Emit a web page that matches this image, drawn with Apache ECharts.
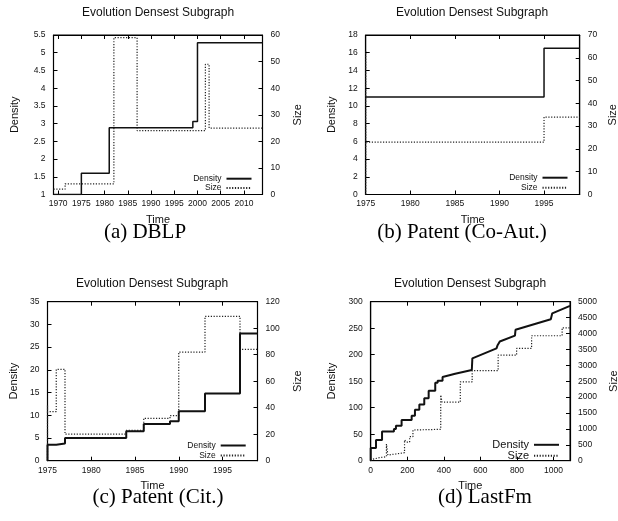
<!DOCTYPE html>
<html><head><meta charset="utf-8">
<script src="https://cdn.jsdelivr.net/npm/echarts@6/dist/echarts.min.js"></script>
<style>html,body{margin:0;padding:0;background:#fff}#c{width:618px;height:521px}</style>
</head><body><div id="c"></div>
<script>
// ---------- data ----------
// (a) DBLP
const dblpDensityTime = [1969, 1975, 1981, 1999, 2000, 2014];
const dblpDensity     = [1, 1.6, 2.88, 3.06, 5.28, 5.28];
const dblpSizeTime    = [1969, 1971.5, 1982, 1987, 2001.7, 2002.5, 2014];
const dblpSize        = [2, 4, 59, 24, 49, 25, 25];
const dblpXTicks      = [1970, 1975, 1980, 1985, 1990, 1995, 2000, 2005, 2010];

// (b) Patent (Co-Aut.)
const coautDensityTime = [1975, 1995, 1999];
const coautDensity     = [11, 16.5, 16.5];
const coautSizeTime    = [1975, 1975, 1975, 1995, 1999];
const coautSize        = [0, 63, 23, 34, 34];

// (c) Patent (Cit.)
const citDensityTime = [1975, 1975, 1976, 1977, 1984, 1986, 1989, 1990, 1993, 1997, 1999];
const citDensity     = [0, 3.5, 3.8, 5, 6.5, 8.1, 8.7, 10.9, 14.8, 28, 28];
const citSizeTime    = [1975, 1975, 1975, 1976, 1977, 1984, 1986, 1989, 1990, 1993, 1997, 1999];
const citSize        = [0, 42, 37, 69, 20, 23, 32, 34, 82, 109, 84, 84];

// (d) LastFm  (corner points of the traced curves)
const fmDensityTime = [0,0,29,29,62,62,127,127,138,138,169,169,224,224,242,242,266,266,293,293,317,317,353,353,366,366,393,393,462,553,556,688,694,706,789,792,985,993,1090];
const fmDensity     = [0,24,24,39,39,55,55,60,60,66,66,77,77,85,85,96,96,106,106,118,118,132,132,147,147,151,151,158,164,171,193,212,218,225,236,247,267,278,292];
const fmSizeTime    = [0,5,12,12,47,47,86,86,94,94,101,101,137,137,185,185,195,195,213,213,231,231,240,240,383,383,390,390,490,490,555,555,697,697,798,798,880,880,1047,1047,1090];
const fmSize        = [0,50,50,95,95,126,126,525,525,179,179,211,211,252,252,650,650,587,587,755,755,965,965,987,987,2066,2066,1840,1840,2480,2480,2830,2830,3320,3320,3530,3530,3930,3930,4180,4180];

const titles   = ['Evolution Densest Subgraph','Evolution Densest Subgraph','Evolution Densest Subgraph','Evolution Densest Subgraph'];
const captions = ['(a) DBLP', '(b) Patent (Co-Aut.)', '(c) Patent (Cit.)', '(d) LastFm'];

// ---------- build ----------
const zip = (a, b) => a.map((v, i) => [v, b[i]]);
const SANS = 'Liberation Sans, Arial, Helvetica, sans-serif';
const SERIF = 'Liberation Serif, Times New Roman, serif';
const INK = '#111';
const plain = v => String(v);

const panels = [
  { grid:{left:53.5, top:35, width:209, height:159.5},
    x:{min:1969, max:2014, custom:dblpXTicks},
    y1:{min:1, max:5.5, interval:0.5}, y2:{min:0, max:60, interval:10},
    dens: zip(dblpDensityTime, dblpDensity), size: zip(dblpSizeTime, dblpSize), step:true,
    dGap:33, sGap:30, tGap:19.5, dW:1.5,
    legend:{right:618-252.5, top:174.2, font:8.5, gap:0.4},
    title:[158, 13], caption:[145, 232] },
  { grid:{left:365.7, top:35, width:214, height:159.5},
    x:{min:1975, max:1999, interval:5},
    y1:{min:0, max:18, interval:2}, y2:{min:0, max:70, interval:10},
    dens: zip(coautDensityTime, coautDensity), size: zip(coautSizeTime, coautSize), step:true,
    dGap:28.5, sGap:28, tGap:19.5, dW:1.5,
    legend:{right:618-568.5, top:173.2, font:8.5, gap:1},
    title:[472, 13], caption:[462, 232] },
  { grid:{left:47.5, top:301.7, width:210, height:159},
    x:{min:1975, max:1999, interval:5},
    y1:{min:0, max:35, interval:5}, y2:{min:0, max:120, interval:20},
    dens: zip(citDensityTime, citDensity), size: zip(citSizeTime, citSize), step:true,
    dGap:28.5, sGap:34.5, tGap:19.5, dW:2,
    legend:{right:618-246.7, top:441, font:8.5, gap:1},
    title:[152, 284], caption:[158, 497] },
  { grid:{left:370.7, top:301.7, width:199.3, height:159},
    x:{min:0, max:1090, interval:200},
    y1:{min:0, max:300, interval:50}, y2:{min:0, max:5000, interval:500},
    dens: zip(fmDensityTime, fmDensity), size: zip(fmSizeTime, fmSize), step:false,
    dGap:33.5, sGap:38, tGap:20, dW:2,
    legend:{right:618-560, top:439.3, font:11, gap:0},
    title:[470, 284], caption:[485, 497] }
];

const axisLine = {show:true, onZero:false, lineStyle:{color:'#000', width:1.2}};
const tick = {show:true, inside:true, length:4, lineStyle:{color:'#000', width:1}};
const lab = {color:INK, fontSize:8.5, fontFamily:SANS, formatter:plain};
const nameStyle = {color:INK, fontSize:11, fontFamily:SANS};

const grid = [], xAxis = [], yAxis = [], series = [], legend = [], graphic = [];

panels.forEach((p, i) => {
  grid.push(Object.assign({show:true, borderColor:'#000', borderWidth:1, containLabel:false, outerBoundsMode:'none'}, p.grid));
  const xBase = {type:'value', gridIndex:i, min:p.x.min, max:p.x.max, splitLine:{show:false}, axisLine};
  const xTick = Object.assign({}, tick);
  const xLab = Object.assign({}, lab, {margin:5, showMinLabel:true, showMaxLabel:false});
  if (p.x.custom) {
    xTick.customValues = p.x.custom; xLab.customValues = p.x.custom; xLab.showMaxLabel = true;
  } else { xBase.interval = p.x.interval; }
  xAxis.push(Object.assign({}, xBase, {position:'bottom', axisTick:xTick, axisLabel:xLab,
    name:'Time', nameLocation:'middle', nameGap:p.tGap, nameTextStyle:nameStyle}));
  xAxis.push(Object.assign({}, xBase, {position:'top', axisTick:xTick, axisLabel:{show:false}}));
  yAxis.push({type:'value', gridIndex:i, position:'left', min:p.y1.min, max:p.y1.max, interval:p.y1.interval,
    splitLine:{show:false}, axisLine, axisTick:tick, axisLabel:Object.assign({}, lab, {margin:8}),
    name:'Density', nameLocation:'middle', nameGap:p.dGap, nameRotate:90, nameTextStyle:nameStyle});
  yAxis.push({type:'value', gridIndex:i, position:'right', min:p.y2.min, max:p.y2.max, interval:p.y2.interval,
    splitLine:{show:false}, axisLine, axisTick:tick, axisLabel:Object.assign({}, lab, {margin:8}),
    name:'Size', nameLocation:'middle', nameGap:p.sGap, nameRotate:90, nameTextStyle:nameStyle});
  series.push({name:'Density', type:'line', xAxisIndex:2*i, yAxisIndex:2*i, data:p.dens,
    step:p.step ? 'end' : false, symbol:'none', lineStyle:{color:INK, width:p.dW, type:'solid'}, itemStyle:{color:INK}, z:3});
  series.push({name:'Size', type:'line', xAxisIndex:2*i, yAxisIndex:2*i+1, data:p.size,
    step:p.step ? 'end' : false, symbol:'none', lineStyle:{color:'#222', width:1.2, type:[1.2,1.6]}, itemStyle:{color:'#222'}, z:2});
  legend.push({data:['Density','Size'], orient:'vertical', align:'right', right:p.legend.right, top:p.legend.top,
    padding:0, itemGap:p.legend.gap, itemWidth:25, itemHeight:8, selectedMode:false,
    itemStyle:{color:'rgba(0,0,0,0)', borderColor:'rgba(0,0,0,0)', borderWidth:0, opacity:0},
    textStyle:{color:INK, fontSize:p.legend.font, fontFamily:SANS, lineHeight:p.legend.font}});
  graphic.push({type:'text', x:p.title[0], y:p.title[1], style:{text:titles[i], fill:INK, fontSize:12, fontFamily:SANS, align:'center', verticalAlign:'middle'}});
  graphic.push({type:'text', x:p.caption[0], y:p.caption[1], style:{text:captions[i], fill:'#000', fontSize:21, fontFamily:SERIF, align:'center', verticalAlign:'middle'}});
});

const chart = echarts.init(document.getElementById('c'));
chart.setOption({animation:false, backgroundColor:'#fff', grid, xAxis, yAxis, series, legend, graphic});
</script></body></html>
